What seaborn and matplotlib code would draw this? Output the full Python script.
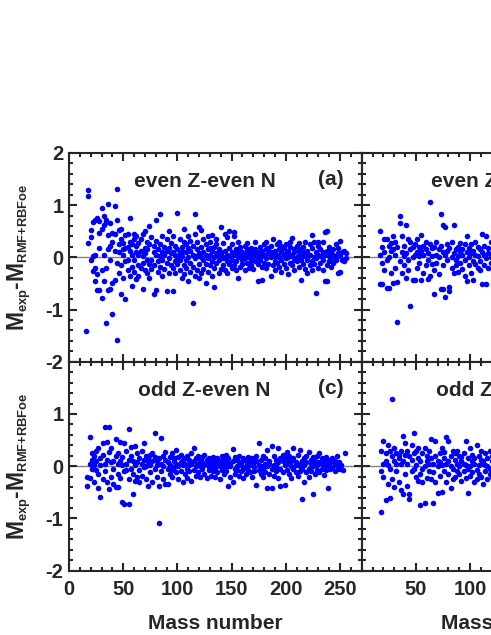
import seaborn as sns
import matplotlib.pyplot as plt
import matplotlib._mathtext as mathtext_internals
from matplotlib.ticker import MultipleLocator

# ---- data (mass number, M_exp - M_RMF+RBFoe in MeV) ----

# (a) even Z - even N
a_mass = [16, 18, 18, 18, 20, 20, 20, 22, 22, 22, 24, 24, 24, 24, 26, 26, 26,
          28, 28, 28, 28, 30, 30, 30, 30, 32, 32, 32, 32, 34, 34, 34, 34,
          36, 36, 36, 36, 38, 38, 38, 38, 40, 40, 40, 40, 42, 42, 42, 42,
          44, 44, 44, 44, 46, 46, 46, 46, 48, 48, 48, 48, 50, 50, 50, 50,
          52, 52, 52, 52, 54, 54, 54, 54, 56, 56, 56, 56, 58, 58, 58, 58,
          60, 60, 60, 60, 62, 62, 62, 62, 64, 64, 64, 64, 66, 66, 66,
          68, 68, 68, 68, 70, 70, 70, 70, 72, 72, 72, 72, 74, 74, 74, 74,
          76, 76, 76, 78, 78, 78, 78, 80, 80, 80, 80, 82, 82, 82,
          84, 84, 84, 84, 86, 86, 86, 86, 88, 88, 88, 90, 90, 90, 90,
          92, 92, 92, 92, 94, 94, 94, 96, 96, 96, 96, 98, 98, 98, 98,
          100, 100, 100, 100, 102, 102, 102, 102, 104, 104, 104, 104,
          106, 106, 106, 106, 108, 108, 108, 108, 110, 110, 110, 110,
          112, 112, 112, 112, 114, 114, 114, 114, 116, 116, 116, 116,
          118, 118, 118, 118, 120, 120, 120, 120, 122, 122, 122, 122,
          124, 124, 124, 124, 126, 126, 126, 126, 128, 128, 128, 128,
          130, 130, 130, 130, 132, 132, 132, 132, 134, 134, 134, 134,
          136, 136, 136, 136, 138, 138, 138, 138, 140, 140, 140, 140,
          142, 142, 142, 144, 144, 144, 144, 146, 146, 146, 146,
          148, 148, 148, 148, 150, 150, 150, 150, 152, 152, 152, 152,
          154, 154, 154, 154, 156, 156, 156, 158, 158, 158, 158,
          160, 160, 160, 160, 162, 162, 162, 162, 164, 164, 164, 164,
          166, 166, 166, 168, 168, 168, 168, 170, 170, 170,
          172, 172, 172, 172, 174, 174, 174, 174, 176, 176, 176,
          178, 178, 178, 178, 180, 180, 180, 182, 182, 182, 182,
          184, 184, 184, 186, 186, 186, 186, 188, 188, 188,
          190, 190, 190, 190, 192, 192, 192, 194, 194, 194, 194,
          196, 196, 196, 196, 198, 198, 198, 200, 200, 200, 200,
          202, 202, 202, 204, 204, 204, 204, 206, 206, 206,
          208, 208, 208, 208, 210, 210, 210, 212, 212, 212, 212,
          214, 214, 214, 216, 216, 216, 216, 218, 218, 218,
          220, 220, 220, 220, 222, 222, 222, 224, 224, 224, 224,
          226, 226, 226, 228, 228, 228, 230, 230, 230, 230,
          232, 232, 232, 234, 234, 234, 234, 236, 236, 236,
          238, 238, 238, 238, 240, 240, 240, 242, 242, 242,
          244, 244, 244, 246, 246, 246, 248, 248, 248, 250, 250, 250,
          252, 252, 254, 254, 256, 256]
a_dev = [-1.42, 1.28, 1.18, 0.27, 0.53, -0.06, 0.39, 0.03, -0.26, 0.68,
         -0.45, -0.20, 0.72, 0.05, 0.75, -0.32, -0.62,
         0.46, -0.63, 0.18, 0.70, 0.94, -0.77, -0.25, 0.55, 0.80, -0.45, 0.05, 0.62,
         0.72, -1.26, 0.67, -0.20, 1.03, -0.63, 0.43, 0.15, 0.65, -0.61, -0.05, 0.22,
         -1.08, 0.47, -0.50, 0.30, 0.99, 0.45, -0.44, 0.12,
         1.31, -1.59, 0.72, -0.10, 0.53, 0.10, -0.30, 0.25, -0.70, 0.55, 0.35, -0.15,
         0.15, -0.40, 0.28, 0.05, 0.42, -0.80, -0.08, 0.18, 0.20, -0.25, 0.45, -0.05,
         0.76, -0.35, 0.12, 0.30, -0.55, 0.05, 0.25, -0.18,
         0.45, -0.05, 0.35, -0.28, 0.10, -0.42, 0.22, 0.40, 0.28, -0.15, 0.05, -0.35,
         -0.20, 0.35, 0.12,
         -0.61, 0.45, 0.02, -0.10, 0.51, 0.18, -0.25, 0.08, -0.30, 0.30, -0.05, 0.15,
         0.59, -0.12, 0.25, -0.40,
         -0.05, 0.38, -0.22, -0.70, 0.10, 0.22, -0.15, 0.72, -0.62, 0.05, 0.32,
         -0.28, 0.15, -0.08,
         0.83, 0.25, -0.18, 0.02, -0.35, 0.10, 0.40, -0.05, 0.20, -0.22, 0.05,
         -0.65, 0.35, -0.10, 0.12,
         0.50, -0.30, 0.18, -0.02, -0.15, 0.08, 0.28, 0.40, -0.64, 0.10, -0.20,
         0.05, -0.08, 0.22, -0.30,
         0.85, 0.15, -0.12, 0.00, 0.35, -0.25, 0.08, -0.05, -0.40, 0.20, 0.02, 0.12,
         0.55, -0.15, 0.30, -0.32, 0.10, -0.05, 0.25, -0.20, -0.45, 0.18, 0.00, 0.40,
         0.32, -0.28, 0.12, -0.10, -0.87, 0.05, 0.22, -0.18, 0.83, 0.45, -0.02, -0.35,
         0.15, -0.25, 0.30, 0.02, 0.58, -0.12, 0.08, -0.40, 0.52, 0.20, -0.30, 0.00,
         0.10, -0.05, 0.35, -0.22, -0.50, 0.25, 0.05, -0.12, 0.40, -0.28, 0.15, -0.02,
         0.30, 0.05, -0.15, 0.18, -0.35, 0.12, -0.08, 0.42, -0.56, 0.20, 0.00, -0.20,
         0.25, -0.10, 0.08, 0.35, -0.30, 0.15, -0.05, 0.02, 0.58, 0.10, -0.22, 0.05,
         -0.15, 0.28, -0.02, 0.45, -0.25, 0.12, 0.00, 0.39, -0.08, 0.05, -0.30,
         0.50, 0.18, -0.12, 0.02, -0.20, 0.10, 0.25, -0.05, 0.48, 0.40, -0.15, 0.05,
         0.08, -0.08, 0.15, -0.25, -0.40, 0.30, 0.00, 0.12, -0.18, 0.05, 0.20,
         -0.05, 0.10, -0.12, 0.02, 0.22, -0.25, 0.08, -0.02, 0.05, -0.10, 0.15, 0.28,
         -0.20, 0.00, 0.12, 0.10, -0.05, 0.18, -0.15, 0.02, -0.22, 0.08,
         0.29, -0.08, 0.05, 0.15, -0.46, 0.00, -0.12, 0.10, 0.20, -0.05, 0.08,
         -0.43, 0.12, -0.18, 0.02, 0.05, -0.10, 0.25, 0.15, -0.02, -0.20, 0.30,
         0.08, -0.12, 0.18, -0.36, 0.00, 0.22, 0.10, 0.35, -0.15, 0.05,
         -0.08, 0.12, -0.25, 0.02, 0.26, 0.05, -0.10, -0.18, 0.15, 0.00, 0.30,
         0.22, -0.05, 0.10, -0.28, -0.12, 0.05, 0.18, 0.08, -0.20, 0.25, -0.02,
         -0.32, 0.12, 0.00, 0.20, -0.10, 0.30, 0.05, 0.37, -0.15, 0.02,
         0.10, -0.25, 0.15, -0.05, -0.08, 0.22, 0.00, 0.05, -0.18, 0.12, 0.28,
         -0.44, 0.15, -0.05, 0.20, -0.12, 0.02, 0.10, -0.22, 0.08, 0.30,
         0.12, -0.05, -0.30, 0.00, 0.25, -0.15, 0.05, 0.43, -0.08, 0.18, -0.25,
         0.00, 0.30, -0.12, -0.68, 0.10, -0.02, 0.22, -0.20, 0.05, 0.30,
         -0.10, 0.15, 0.02, 0.30, -0.05, -0.25, 0.10, 0.48, -0.45, 0.05,
         0.50, -0.45, 0.12, -0.15, 0.02, -0.08, 0.20, -0.18, 0.10, -0.02,
         0.15, -0.10, 0.05, 0.25, -0.05, 0.00, -0.30, 0.08, 0.18, 0.32, -0.29, 0.02,
         -0.05, 0.10, 0.12, -0.08, 0.08, -0.02]

# (b) even Z - odd N (only the low-mass part is inside the picture)
b_mass = [17, 17, 17, 19, 19, 19, 21, 21, 21, 23, 23, 23, 25, 25, 25,
          27, 27, 27, 29, 29, 29, 31, 31, 31, 33, 33, 33, 35, 35, 35,
          37, 37, 37, 39, 39, 39, 41, 41, 41, 43, 43, 43, 45, 45, 45,
          47, 47, 47, 49, 49, 49, 51, 51, 51, 53, 53, 53, 55, 55, 55,
          57, 57, 57, 59, 59, 59, 61, 61, 61, 63, 63, 63, 65, 65, 65,
          67, 67, 67, 69, 69, 69, 71, 71, 71, 73, 73, 73, 75, 75, 75, 75,
          77, 77, 77, 79, 79, 79, 81, 81, 81, 83, 83, 83, 85, 85, 85,
          87, 87, 87, 89, 89, 89, 91, 91, 91, 93, 93, 93, 95, 95, 95,
          97, 97, 97, 99, 99, 99, 101, 101, 101, 103, 103, 103, 105, 105, 105,
          107, 107, 107, 109, 109, 109, 111, 111, 111, 113, 113, 113,
          115, 115, 115, 117, 117, 117, 119, 119, 119, 121, 121, 121,
          123, 123, 125, 125]
b_dev = [0.51, -0.51, 0.05, -0.51, 0.20, -0.10, 0.35, 0.10, -0.25,
         0.35, -0.05, -0.59, -0.59, 0.22, 0.00, 0.28, -0.30, 0.12,
         -0.50, 0.15, 0.40, 0.05, -0.20, 0.30, -1.24, -0.48, 0.20,
         0.79, 0.65, -0.08, 0.40, -0.30, 0.10, 0.22, -0.15, 0.02,
         0.61, -0.40, 0.08, 0.35, -0.25, -0.05, -0.93, 0.15, 0.30,
         0.20, -0.44, 0.00, -0.44, 0.25, 0.05, 0.10, -0.20, 0.35,
         0.20, -0.10, 0.02, 0.43, -0.44, 0.12, -0.30, 0.05, 0.22,
         0.15, -0.15, 0.30, -0.42, 0.08, -0.05, 1.06, -0.35, 0.25,
         0.18, -0.12, 0.02, -0.70, 0.20, -0.25, 0.30, 0.05, -0.10,
         0.15, -0.32, 0.00, -0.61, 0.83, 0.22, 0.62, -0.60, 0.10, -0.15,
         -0.76, 0.58, 0.05, 0.25, -0.05, 0.12, -0.56, -0.65, 0.18,
         0.30, -0.20, 0.00, 0.62, 0.08, -0.30, -0.15, 0.15, -0.05,
         0.20, -0.28, 0.02, 0.10, -0.10, 0.28, -0.22, 0.05, 0.15,
         0.25, -0.05, -0.35, 0.40, -0.45, 0.10, -0.15, 0.18, 0.00,
         0.08, -0.30, 0.25, -0.44, 0.12, -0.08, 0.30, -0.12, 0.05,
         -0.20, 0.20, 0.02, 0.15, -0.08, -0.25, 0.45, -0.51, 0.10,
         0.05, -0.15, 0.22, 0.40, -0.51, -0.02, 0.18, -0.20, 0.08,
         0.30, -0.10, 0.00, -0.25, 0.12, 0.20, 0.05, -0.15, 0.15, -0.05]

# (c) odd Z - even N
c_mass = [17, 17, 19, 19, 19, 21, 21, 21, 23, 23, 23, 25, 25, 25,
          27, 27, 27, 29, 29, 29, 31, 31, 31, 33, 33, 33, 35, 35, 35,
          37, 37, 37, 39, 39, 39, 41, 41, 41, 43, 43, 43, 45, 45, 45, 45,
          47, 47, 47, 49, 49, 49, 51, 51, 51, 53, 53, 53, 55, 55, 55, 55,
          57, 57, 57, 59, 59, 59, 61, 61, 61, 63, 63, 63, 65, 65, 65,
          67, 67, 67, 69, 69, 69, 71, 71, 71, 73, 73, 73, 75, 75, 75,
          77, 77, 77, 79, 79, 79, 81, 81, 81, 83, 83, 83, 85, 85, 85,
          87, 87, 87, 89, 89, 89, 91, 91, 91, 93, 93, 93, 95, 95, 95,
          97, 97, 97, 99, 99, 99, 101, 101, 101, 103, 103, 103,
          105, 105, 105, 107, 107, 107, 109, 109, 109, 111, 111, 111,
          113, 113, 113, 115, 115, 115, 117, 117, 117, 119, 119, 119,
          121, 121, 121, 123, 123, 123, 125, 125, 125, 127, 127, 127,
          129, 129, 129, 131, 131, 131, 133, 133, 133, 135, 135, 135,
          137, 137, 137, 139, 139, 139, 141, 141, 141, 143, 143, 143,
          145, 145, 145, 147, 147, 147, 149, 149, 149, 151, 151, 151,
          153, 153, 153, 155, 155, 155, 157, 157, 157, 159, 159, 159,
          161, 161, 161, 163, 163, 163, 165, 165, 165, 167, 167, 167,
          169, 169, 169, 171, 171, 171, 173, 173, 173, 175, 175, 175,
          177, 177, 177, 179, 179, 179, 181, 181, 181, 183, 183, 183,
          185, 185, 185, 187, 187, 187, 189, 189, 189, 191, 191, 191,
          193, 193, 193, 195, 195, 195, 197, 197, 197, 199, 199, 199,
          201, 201, 201, 203, 203, 203, 205, 205, 205, 207, 207, 207,
          209, 209, 209, 211, 211, 211, 213, 213, 213, 215, 215, 215,
          217, 217, 217, 219, 219, 219, 221, 221, 221, 223, 223, 223,
          225, 225, 225, 227, 227, 227, 229, 229, 229, 231, 231, 231,
          233, 233, 233, 235, 235, 235, 237, 237, 237, 239, 239, 239,
          241, 241, 243, 243, 245, 245, 245, 247, 247, 249, 249,
          251, 251, 253, 255]
c_dev = [-0.37, -0.21, 0.56, -0.22, 0.05, 0.25, -0.05, 0.12, -0.30, 0.20, 0.02,
         0.10, -0.08, 0.30, -0.42, 0.35, -0.15, -0.59, 0.15, 0.02,
         0.45, 0.22, -0.25, 0.75, -0.10, 0.05, 0.47, -0.30, 0.12,
         0.75, -0.44, 0.28, -0.20, 0.08, 0.35, 0.10, -0.05, -0.35,
         -0.40, 0.53, 0.20, -0.39, 0.05, 0.25, -0.15,
         0.47, -0.22, 0.10, -0.69, 0.02, 0.18, 0.44, -0.72, -0.10,
         -0.08, 0.30, 0.05, 0.72, -0.72, 0.12, -0.25,
         0.37, -0.05, 0.20, -0.54, 0.10, -0.15, 0.38, 0.02, -0.28,
         -0.20, 0.25, 0.08, 0.15, -0.08, -0.30, 0.30, -0.18, 0.05,
         0.45, -0.02, 0.12, -0.25, 0.20, 0.00, 0.08, -0.37, 0.15,
         0.22, -0.12, 0.02, -0.30, 0.10, 0.25, 0.63, -0.05, 0.18,
         0.02, -0.20, 0.10, -1.08, -0.37, 0.15, 0.54, -0.10, 0.05,
         0.20, -0.25, 0.00, -0.35, 0.12, 0.28, 0.08, -0.35, -0.05,
         0.18, -0.15, 0.02, -0.08, 0.25, -0.20, 0.10, -0.02, 0.15,
         0.31, -0.12, 0.05, -0.25, 0.18, 0.00, 0.08, -0.10, 0.22,
         -0.30, 0.02, 0.12, 0.15, -0.15, 0.05, 0.20, -0.05, -0.22,
         0.02, 0.12, -0.10, -0.28, 0.25, 0.05, 0.34, -0.08, 0.10,
         0.00, -0.18, 0.15, 0.20, 0.05, -0.12, -0.20, 0.10, 0.00,
         0.08, -0.05, 0.18, -0.15, 0.22, 0.02, 0.12, -0.22, 0.05,
         -0.08, 0.15, -0.02, 0.05, -0.18, 0.10, 0.18, -0.10, 0.00,
         -0.05, 0.08, -0.20, 0.15, 0.02, -0.12, -0.25, 0.10, 0.00,
         0.05, -0.08, 0.20, 0.12, -0.15, 0.02, -0.02, 0.22, -0.10,
         -0.38, 0.08, 0.15, 0.05, -0.20, 0.00, 0.33, -0.30, 0.10,
         -0.05, 0.18, -0.15, 0.12, 0.00, -0.08, -0.18, 0.05, 0.20,
         0.08, -0.10, 0.02, 0.15, -0.05, -0.22, 0.00, 0.10, -0.15,
         -0.08, 0.18, 0.05, 0.12, -0.12, 0.02, -0.20, 0.05, 0.15,
         0.08, -0.02, -0.10, -0.36, 0.10, 0.20, 0.44, -0.08, 0.02,
         -0.15, 0.12, 0.00, 0.20, -0.05, -0.20, 0.05, -0.12, 0.15,
         -0.42, 0.32, 0.00, 0.10, -0.15, 0.05, 0.38, -0.42, -0.05,
         0.20, 0.02, -0.18, -0.10, 0.12, 0.00, 0.35, -0.22, 0.08,
         -0.37, 0.15, -0.05, 0.10, -0.12, 0.22, -0.36, 0.02, 0.18,
         0.12, -0.08, 0.28, -0.15, 0.05, 0.20, 0.00, -0.22, 0.10,
         0.34, -0.05, 0.15, -0.12, 0.08, 0.02, 0.22, -0.18, 0.05,
         0.32, -0.10, 0.00, -0.63, 0.10, -0.05, -0.31, 0.15, 0.02,
         0.20, -0.12, 0.08, 0.28, -0.05, -0.20, 0.05, 0.12, -0.10,
         -0.53, 0.18, 0.00, 0.10, -0.15, 0.05, -0.08, 0.20, 0.02,
         0.26, -0.12, 0.08, 0.05, -0.05, 0.15, -0.16, 0.10, 0.00,
         0.18, -0.08, 0.05, -0.42, 0.02, 0.12, 0.08, -0.05, 0.15, -0.02,
         -0.10, 0.05, 0.10, 0.19, 0.00, -0.05, 0.08, -0.05, 0.02, -0.08, 0.26]

# (d) odd Z - odd N (only the low-mass part is inside the picture)
d_mass = [18, 18, 18, 20, 20, 20, 22, 22, 22, 24, 24, 24, 26, 26, 26,
          28, 28, 28, 30, 30, 30, 32, 32, 32, 34, 34, 34, 36, 36, 36,
          38, 38, 38, 40, 40, 40, 42, 42, 42, 44, 44, 44, 46, 46, 46,
          48, 48, 48, 50, 50, 50, 52, 52, 52, 54, 54, 54, 56, 56, 56,
          58, 58, 58, 60, 60, 60, 62, 62, 62, 64, 64, 64, 66, 66, 66,
          68, 68, 68, 70, 70, 70, 72, 72, 72, 74, 74, 74, 76, 76, 76,
          78, 78, 78, 80, 80, 80, 82, 82, 82, 84, 84, 84, 86, 86, 86,
          88, 88, 88, 90, 90, 90, 92, 92, 92, 94, 94, 94, 96, 96, 96,
          98, 98, 98, 100, 100, 100, 102, 102, 102, 104, 104, 104,
          106, 106, 106, 108, 108, 108, 110, 110, 110, 112, 112, 112,
          114, 114, 114, 116, 116, 116, 118, 118, 118, 120, 120, 120,
          122, 122, 122, 124, 124]
d_dev = [-0.88, 0.30, -0.10, 0.49, 0.05, -0.20, -0.64, 0.25, 0.10,
         0.02, -0.35, 0.40, -0.60, 0.30, -0.05, 1.28, 0.20, -0.25,
         0.35, -0.40, 0.10, -0.10, 0.25, 0.05, 0.22, -0.30, 0.15,
         0.05, -0.45, 0.30, -0.54, 0.58, 0.10, 0.45, -0.15, 0.22,
         0.05, -0.38, 0.30, -0.54, -0.62, 0.20, 0.40, -0.10, 0.12,
         0.63, -0.05, 0.25, 0.30, -0.20, 0.02, -0.28, 0.15, 0.35,
         -0.75, 0.10, -0.15, 0.25, -0.05, -0.30, -0.70, 0.35, 0.00,
         0.10, -0.22, 0.20, 0.30, -0.10, 0.05, 0.53, -0.25, 0.15,
         -0.70, 0.05, -0.12, 0.49, 0.20, -0.30, -0.51, 0.10, 0.00,
         0.25, -0.18, 0.08, -0.49, 0.35, 0.02, 0.15, -0.10, 0.28,
         0.55, -0.30, 0.05, 0.49, -0.15, 0.10, -0.42, 0.20, 0.00,
         0.30, -0.05, -0.25, 0.12, -0.20, 0.25, -0.10, 0.30, 0.05,
         0.20, -0.15, 0.00, -0.28, 0.10, 0.18, 0.05, -0.10, 0.25,
         0.48, -0.22, 0.02, -0.51, 0.15, -0.05, 0.35, 0.00, -0.18,
         0.10, -0.12, 0.22, -0.30, 0.05, 0.15, 0.40, -0.08, -0.25,
         0.02, 0.20, -0.15, -0.20, 0.12, 0.30, 0.05, -0.35, 0.10,
         0.25, -0.10, 0.02, -0.25, 0.15, 0.00, 0.30, -0.05, -0.15,
         0.10, -0.20, 0.20, -0.10, 0.05, 0.25, 0.15, -0.15]

titles = ['even Z-even N', 'even Z-odd N', 'odd Z-even N', 'odd Z-odd N']
tags = ['(a)', None, '(c)', None]  # (b) and (d) fall outside the cropped picture

# ---- style ----
sns.set_style('ticks')
plt.rcParams['font.family'] = ['Liberation Sans', 'DejaVu Sans']
plt.rcParams['font.weight'] = 'bold'
plt.rcParams['axes.unicode_minus'] = False
plt.rcParams['mathtext.fontset'] = 'custom'
plt.rcParams['mathtext.rm'] = 'Liberation Sans:bold'
plt.rcParams['mathtext.it'] = 'Liberation Sans:bold'
plt.rcParams['mathtext.bf'] = 'Liberation Sans:bold'
# subscripts in the y label are about half the size of the main letters
mathtext_internals.SHRINK_FACTOR = 0.56

fig = plt.figure(figsize=(4.91, 6.35), dpi=100)

# panels are 2x2; the right column runs off the right edge of the picture
w, h = 0.596, 0.329
ax_a = fig.add_axes([0.1405, 0.1013 + h, w, h])
ax_b = fig.add_axes([0.7366, 0.1013 + h, w, h])
ax_c = fig.add_axes([0.1405, 0.1013, w, h])
ax_d = fig.add_axes([0.7366, 0.1013, w, h])
axes = [ax_a, ax_b, ax_c, ax_d]
series = [(a_mass, a_dev), (b_mass, b_dev), (c_mass, c_dev), (d_mass, d_dev)]

ylabel = r'M$_{\rm exp}$-M$_{\rm RMF{+}RBFoe}$'

for i, ax in enumerate(axes):
    mass, dev = series[i]
    ax.axhline(0, color='#808080', lw=1, zorder=0)
    sns.scatterplot(x=mass, y=dev, ax=ax, color='#0000ff', s=16,
                    linewidth=0, legend=False, zorder=2)
    ax.set_xlim(0, 270)
    ax.set_ylim(-2, 2)
    ax.xaxis.set_major_locator(MultipleLocator(50))
    ax.xaxis.set_minor_locator(MultipleLocator(10))
    ax.yaxis.set_major_locator(MultipleLocator(1))
    ax.yaxis.set_minor_locator(MultipleLocator(0.2))
    ax.tick_params(which='both', direction='in', top=True, right=True,
                   width=1.5, labelsize=14.5)
    ax.tick_params(which='major', length=5.5)
    ax.tick_params(which='minor', length=3)
    ax.tick_params(axis='x', pad=7)
    ax.tick_params(axis='y', pad=4)
    for sp in ax.spines.values():
        sp.set_linewidth(1.5)
    ax.text(125, 1.45, titles[i], ha='center', va='center',
            fontsize=15, fontweight='bold')
    if tags[i]:
        ax.text(242, 1.49, tags[i], ha='center', va='center',
                fontsize=15, fontweight='bold')
    ax.set_xlabel('')
    ax.set_ylabel('')

# tick labels only on the outer edges
for ax in [ax_a, ax_b]:
    ax.tick_params(axis='x', labelbottom=False)
for ax in [ax_b, ax_d]:
    ax.tick_params(axis='y', labelleft=False)
ax_c.set_yticks([-2, -1, 0, 1, 2])
ax_c.set_yticklabels(['-2', '-1', '0', '1', ''])
ax_d.set_xticks([0, 50, 100, 150, 200, 250])
ax_d.set_xticklabels(['', '50', '100', '150', '200', '250'])

for ax in [ax_a, ax_c]:
    ax.set_ylabel(ylabel, fontsize=16.5, fontweight='bold')
    ax.yaxis.set_label_coords(-0.118, 0.5)
for ax in [ax_c, ax_d]:
    ax.set_xlabel('Mass number', fontsize=15, fontweight='bold')
    ax.xaxis.set_label_coords(0.5, -0.205)

fig.savefig('out.png', dpi=100)
